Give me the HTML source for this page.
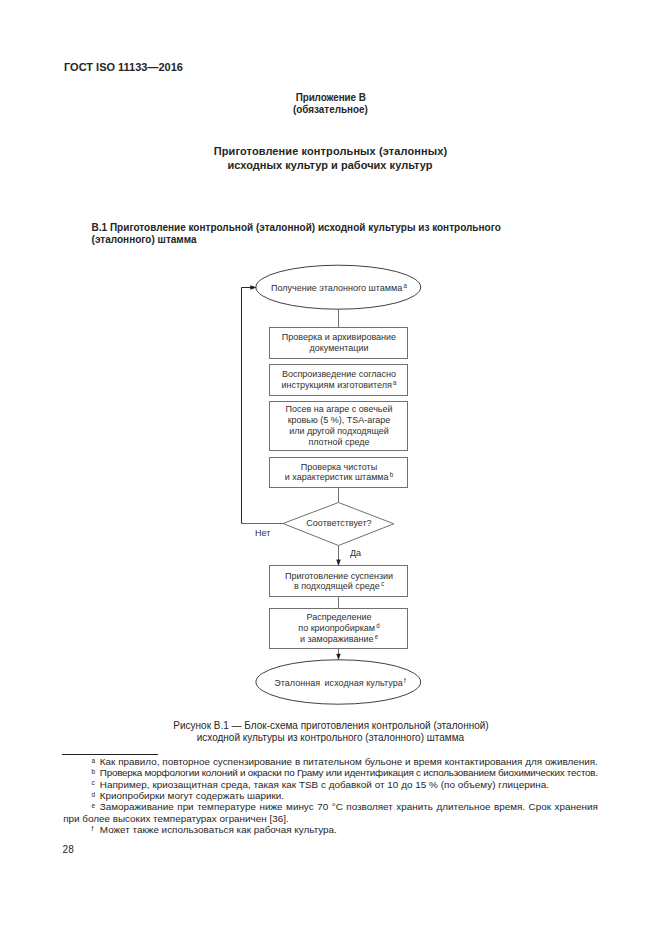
<!DOCTYPE html>
<html><head><meta charset="utf-8"><style>
html,body{margin:0;padding:0;background:#fff;width:661px;height:935px;overflow:hidden;position:relative}
.t{position:absolute;white-space:nowrap;font-family:"Liberation Sans",sans-serif}
.sup{font-size:6.5px;vertical-align:3px;line-height:0;margin-left:1.3px}
</style></head><body>
<div class="t" style="left:64px;top:60.89px;font-size:11px;line-height:13.2px;font-weight:bold;color:#262626;transform:scale(1.0,1.03);transform-origin:0 10.41px;">ГОСТ ISO 11133—2016</div>
<div class="t" style="left:30.69999999999999px;width:600px;text-align:center;top:91.83px;font-size:9.9px;line-height:11.88px;font-weight:bold;color:#262626;transform:scale(1.0,1.13);transform-origin:300px 9.37px;letter-spacing:-0.08px;">Приложение В</div>
<div class="t" style="left:30.399999999999977px;width:600px;text-align:center;top:103.63px;font-size:9.9px;line-height:11.88px;font-weight:bold;color:#262626;transform:scale(1.0,1.08);transform-origin:300px 9.37px;">(обязательное)</div>
<div class="t" style="left:30.5px;width:600px;text-align:center;top:144.59px;font-size:11px;line-height:13.2px;font-weight:bold;color:#262626;transform:scale(1.0,1.04);transform-origin:300px 10.41px;letter-spacing:0.1px;">Приготовление контрольных (эталонных)</div>
<div class="t" style="left:30px;width:600px;text-align:center;top:158.59px;font-size:11px;line-height:13.2px;font-weight:bold;color:#262626;transform:scale(1.0,1.04);transform-origin:300px 10.41px;letter-spacing:0.03px;">исходных культур и рабочих культур</div>
<div class="t" style="left:91.6px;top:221.94px;font-size:10px;line-height:12.0px;font-weight:bold;color:#262626;transform:scale(1.0,1.05);transform-origin:0 9.46px;">В.1 Приготовление контрольной (эталонной) исходной культуры из контрольного</div>
<div class="t" style="left:91.6px;top:233.63px;font-size:10px;line-height:12.0px;font-weight:bold;color:#262626;transform:scale(1.0,1.05);transform-origin:0 9.46px;">(эталонного) штамма</div>
<div class="t" style="left:31px;width:600px;text-align:center;top:719.83px;font-size:10px;line-height:12.0px;font-weight:normal;color:#262626;transform:scale(1.0,1.06);transform-origin:300px 9.46px;">Рисунок В.1 — Блок-схема приготовления контрольной (эталонной)</div>
<div class="t" style="left:30.399999999999977px;width:600px;text-align:center;top:732.03px;font-size:10px;line-height:12.0px;font-weight:normal;color:#262626;transform:scale(1.0,1.06);transform-origin:300px 9.46px;">исходной культуры из контрольного (эталонного) штамма</div>
<div class="t" style="left:91.5px;top:756.65px;font-size:6.5px;line-height:7.8px;font-weight:normal;color:#262626;">a</div>
<div class="t" style="left:99.8px;top:756.23px;font-size:9.9px;line-height:11.88px;font-weight:normal;color:#262626;width:498px;text-align:justify;text-align-last:justify;">Как правило, повторное суспензирование в питательном бульоне и время контактирования для оживления.</div>
<div class="t" style="left:91.5px;top:767.55px;font-size:6.5px;line-height:7.8px;font-weight:normal;color:#262626;">b</div>
<div class="t" style="left:99.8px;top:767.13px;font-size:9.9px;line-height:11.88px;font-weight:normal;color:#262626;width:498px;letter-spacing:-0.25px;">Проверка морфологии колоний и окраски по Граму или идентификация с использованием биохимических тестов.</div>
<div class="t" style="left:91.5px;top:779.35px;font-size:6.5px;line-height:7.8px;font-weight:normal;color:#262626;">c</div>
<div class="t" style="left:99.8px;top:778.93px;font-size:9.9px;line-height:11.88px;font-weight:normal;color:#262626;letter-spacing:0.035px;">Например, криозащитная среда, такая как TSB с добавкой от 10 до 15 % (по объему) глицерина.</div>
<div class="t" style="left:91.5px;top:790.65px;font-size:6.5px;line-height:7.8px;font-weight:normal;color:#262626;">d</div>
<div class="t" style="left:99.8px;top:790.23px;font-size:9.9px;line-height:11.88px;font-weight:normal;color:#262626;">Криопробирки могут содержать шарики.</div>
<div class="t" style="left:91.5px;top:801.65px;font-size:6.5px;line-height:7.8px;font-weight:normal;color:#262626;">e</div>
<div class="t" style="left:99.8px;top:801.23px;font-size:9.9px;line-height:11.88px;font-weight:normal;color:#262626;width:498px;text-align:justify;text-align-last:justify;">Замораживание при температуре ниже минус 70 °С позволяет хранить длительное время. Срок хранения</div>
<div class="t" style="left:91.5px;top:824.75px;font-size:6.5px;line-height:7.8px;font-weight:normal;color:#262626;">f</div>
<div class="t" style="left:99.8px;top:824.33px;font-size:9.9px;line-height:11.88px;font-weight:normal;color:#262626;">Может также использоваться как рабочая культура.</div>
<div class="t" style="left:63.2px;top:813.23px;font-size:9.9px;line-height:11.88px;font-weight:normal;color:#262626;">при более высоких температурах ограничен [36].</div>
<div style="position:absolute;left:62px;top:753.7px;width:96px;height:1px;background:#222"></div>
<div class="t" style="left:62.6px;top:843.53px;font-size:10px;line-height:12.0px;font-weight:normal;color:#262626;">28</div>
<svg width="661" height="935" style="position:absolute;left:0;top:0"><ellipse cx="338.3" cy="287.2" rx="82.4" ry="22" stroke="#404040" stroke-width="1" fill="none"/><ellipse cx="338.3" cy="682" rx="82.4" ry="22.2" stroke="#404040" stroke-width="1" fill="none"/><rect x="269.5" y="327.5" width="138" height="31.0" stroke="#707070" stroke-width="1" fill="none"/><rect x="269.5" y="364.5" width="138" height="31.0" stroke="#707070" stroke-width="1" fill="none"/><rect x="269.5" y="401.5" width="138" height="49.0" stroke="#707070" stroke-width="1" fill="none"/><rect x="269.5" y="457.5" width="138" height="30.0" stroke="#707070" stroke-width="1" fill="none"/><rect x="269.5" y="565.5" width="138" height="31.0" stroke="#707070" stroke-width="1" fill="none"/><rect x="269.5" y="608.5" width="138" height="40.0" stroke="#707070" stroke-width="1" fill="none"/><line x1="338.5" y1="309" x2="338.5" y2="327.5" stroke="#707070" stroke-width="1" fill="none"/><line x1="338.5" y1="487.5" x2="338.5" y2="502.5" stroke="#707070" stroke-width="1" fill="none"/><line x1="338.5" y1="545.5" x2="338.5" y2="560" stroke="#707070" stroke-width="1" fill="none"/><path d="M336.6,559.8 L340.4,559.8 L338.5,565.5 Z" fill="#1a1a1a" stroke="#1a1a1a" stroke-width="0.4"/><line x1="338.5" y1="596.5" x2="338.5" y2="608.5" stroke="#707070" stroke-width="1" fill="none"/><line x1="338.5" y1="648.5" x2="338.5" y2="654" stroke="#707070" stroke-width="1" fill="none"/><path d="M336.6,654 L340.4,654 L338.5,659.5 Z" fill="#1a1a1a" stroke="#1a1a1a" stroke-width="0.4"/><path d="M338.5,502.5 L393.8,523.8 L338.5,545.5 L283,523.5 Z" stroke="#707070" stroke-width="1" fill="none"/><path d="M283,523.5 L241.5,523.5" stroke="#666" stroke-width="1" fill="none"/><path d="M241.5,523.5 L241.5,287.5 L251,287.5" stroke="#262626" stroke-width="1" fill="none"/><path d="M250.5,285.6 L250.5,289.4 L256,287.5 Z" fill="#1a1a1a" stroke="#1a1a1a" stroke-width="0.4"/></svg>
<div class="t" style="left:38.89999999999998px;width:600px;text-align:center;top:282.41px;font-size:9.5px;line-height:11.4px;font-weight:normal;color:#303030;transform:scale(0.947,1.0);transform-origin:300px 8.99px;">Получение эталонного штамма<span class="sup">a</span></div>
<div class="t" style="left:38.89999999999998px;width:600px;text-align:center;top:331.31px;font-size:9.5px;line-height:11.4px;font-weight:normal;color:#303030;transform:scale(0.947,1.0);transform-origin:300px 8.99px;">Проверка и архивирование</div>
<div class="t" style="left:38.89999999999998px;width:600px;text-align:center;top:342.31px;font-size:9.5px;line-height:11.4px;font-weight:normal;color:#303030;transform:scale(0.947,1.0);transform-origin:300px 8.99px;">документации</div>
<div class="t" style="left:38.89999999999998px;width:600px;text-align:center;top:368.41px;font-size:9.5px;line-height:11.4px;font-weight:normal;color:#303030;transform:scale(0.947,1.0);transform-origin:300px 8.99px;">Воспроизведение согласно</div>
<div class="t" style="left:38.89999999999998px;width:600px;text-align:center;top:379.01px;font-size:9.5px;line-height:11.4px;font-weight:normal;color:#303030;transform:scale(0.947,1.0);transform-origin:300px 8.99px;">инструкциям изготовителя<span class="sup">a</span></div>
<div class="t" style="left:38.89999999999998px;width:600px;text-align:center;top:403.01px;font-size:9.5px;line-height:11.4px;font-weight:normal;color:#303030;transform:scale(0.947,1.0);transform-origin:300px 8.99px;">Посев на агаре с овечьей</div>
<div class="t" style="left:38.89999999999998px;width:600px;text-align:center;top:413.71px;font-size:9.5px;line-height:11.4px;font-weight:normal;color:#303030;transform:scale(0.947,1.0);transform-origin:300px 8.99px;">кровью (5 %), TSA-агаре</div>
<div class="t" style="left:38.89999999999998px;width:600px;text-align:center;top:424.81px;font-size:9.5px;line-height:11.4px;font-weight:normal;color:#303030;transform:scale(0.947,1.0);transform-origin:300px 8.99px;">или другой подходящей</div>
<div class="t" style="left:38.89999999999998px;width:600px;text-align:center;top:435.81px;font-size:9.5px;line-height:11.4px;font-weight:normal;color:#303030;transform:scale(0.947,1.0);transform-origin:300px 8.99px;">плотной среде</div>
<div class="t" style="left:38.89999999999998px;width:600px;text-align:center;top:460.61px;font-size:9.5px;line-height:11.4px;font-weight:normal;color:#303030;transform:scale(0.947,1.0);transform-origin:300px 8.99px;">Проверка чистоты</div>
<div class="t" style="left:38.89999999999998px;width:600px;text-align:center;top:470.61px;font-size:9.5px;line-height:11.4px;font-weight:normal;color:#303030;transform:scale(0.947,1.0);transform-origin:300px 8.99px;">и характеристик штамма<span class="sup">b</span></div>
<div class="t" style="left:38.89999999999998px;width:600px;text-align:center;top:516.91px;font-size:9.5px;line-height:11.4px;font-weight:normal;color:#303030;transform:scale(0.947,1.0);transform-origin:300px 8.99px;">Соответствует?</div>
<div class="t" style="left:254.6px;top:527.31px;font-size:9.5px;line-height:11.4px;font-weight:normal;color:#303030;transform:scale(0.947,1.0);transform-origin:0 8.99px;">Нет</div>
<div class="t" style="left:350.3px;top:547.01px;font-size:9.5px;line-height:11.4px;font-weight:normal;color:#303030;transform:scale(0.947,1.0);transform-origin:0 8.99px;">Да</div>
<div class="t" style="left:38.89999999999998px;width:600px;text-align:center;top:569.81px;font-size:9.5px;line-height:11.4px;font-weight:normal;color:#303030;transform:scale(0.947,1.0);transform-origin:300px 8.99px;">Приготовление суспензии</div>
<div class="t" style="left:38.89999999999998px;width:600px;text-align:center;top:580.21px;font-size:9.5px;line-height:11.4px;font-weight:normal;color:#303030;transform:scale(0.947,1.0);transform-origin:300px 8.99px;">в подходящей среде<span class="sup">c</span></div>
<div class="t" style="left:38.89999999999998px;width:600px;text-align:center;top:610.81px;font-size:9.5px;line-height:11.4px;font-weight:normal;color:#303030;transform:scale(0.947,1.0);transform-origin:300px 8.99px;">Распределение</div>
<div class="t" style="left:38.89999999999998px;width:600px;text-align:center;top:622.21px;font-size:9.5px;line-height:11.4px;font-weight:normal;color:#303030;transform:scale(0.947,1.0);transform-origin:300px 8.99px;">по криопробиркам<span class="sup">d</span></div>
<div class="t" style="left:38.89999999999998px;width:600px;text-align:center;top:632.91px;font-size:9.5px;line-height:11.4px;font-weight:normal;color:#303030;transform:scale(0.947,1.0);transform-origin:300px 8.99px;">и замораживание<span class="sup">e</span></div>
<div class="t" style="left:39.5px;width:600px;text-align:center;top:676.91px;font-size:9.5px;line-height:11.4px;font-weight:normal;color:#303030;transform:scale(0.947,1.0);transform-origin:300px 8.99px;letter-spacing:0.05px;">Эталонная<span style="margin-left:1.8px"></span> исходная культура<span class="sup">f</span></div>
</body></html>
